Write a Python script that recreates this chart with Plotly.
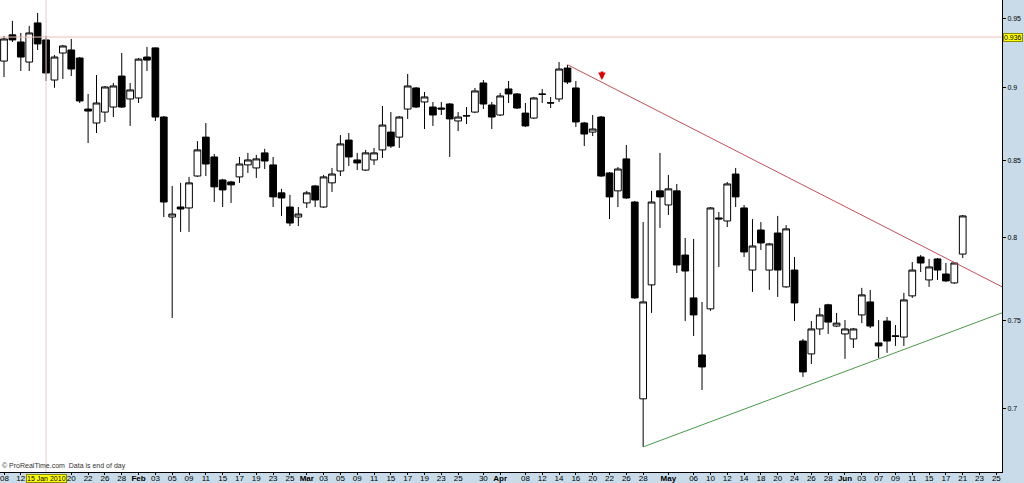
import math
import pandas as pd
import plotly.graph_objects as go

# ---- trading days (European calendar: Good Friday / Easter Monday closed) ----
all_days = [d for d in pd.bdate_range("2010-01-08", "2010-06-25")
            if d.strftime("%m-%d") not in ("04-02", "04-05")]
day_index = {d.strftime("%Y-%m-%d"): i for i, d in enumerate(all_days)}
n_bars = 115  # Jan 08 .. Jun 21

opens = [.9186, .9376, .9324, .9179, .9464, .9339, .9051, .9244, .9266, .9208,
         .8848, .8752, .8827, .8862, .9079, .8918, .8925, .9215, .9281, .8793,
         .8132, .8196, .8190, .8397, .8656, .8523, .8371, .8358, .8391, .8470,
         .8450, .8550, .8470, .8287, .8196, .8132, .8222, .8332, .8196, .8352,
         .8430, .8636, .8503, .8436, .8503, .8570, .8690, .8656, .8848, .8995,
         .8897, .8862, .8855, .8883, .8766, .8800, .8827, .9030, .8876, .8807,
         .8988, .8953, .8820, .8786, .8953, .8892, .8918, .9136, .8995, .8752,
         .8690, .8793, .8417, .8300, .8510, .8228, .7055, .7712, .8300, .8209,
         .8300, .7894, .7634, .7301, .7569, .8126, .8107, .8410, .8190, .7802,
         .8050, .7802, .8031, .7700, .7802, .7381, .7307, .7451, .7593, .7468,
         .7422, .7393, .7533, .7610, .7370, .7497, .7411, .7404, .7646, .7882,
         .7742, .7870, .7778, .7724, .7900]
highs = [.9368, .9479, .9390, .9442, .9538, .9368, .9230, .9303, .9346, .9215,
         .8953, .9086, .9009, .9030, .9244, .9030, .9208, .9288, .9285, .8800,
         .8332, .8352, .8391, .8629, .8752, .8543, .8378, .8365, .8523, .8550,
         .8537, .8577, .8523, .8313, .8274, .8196, .8300, .8339, .8404, .8450,
         .8670, .8684, .8550, .8570, .8583, .8869, .8827, .8800, .9094, .9002,
         .8967, .8897, .8897, .8890, .8827, .8862, .8995, .9051, .8897, .8960,
         .9044, .8960, .8890, .8932, .8988, .8932, .9179, .9158, .9044, .8759,
         .8807, .8800, .8423, .8456, .8603, .8235, .8100, .8300, .8550, .8404,
         .8345, .8000, .7994, .7610, .8196, .8164, .8358, .8450, .8209, .8119,
         .8100, .7969, .8139, .8081, .7882, .7393, .7497, .7575, .7599, .7545,
         .7503, .7457, .7694, .7682, .7503, .7521, .7474, .7664, .7851, .7894,
         .7870, .7876, .7845, .7851, .8145]
lows = [.9072, .9324, .9115, .9115, .9266, .9044, .8996, .9058, .9079, .8890,
        .8616, .8684, .8759, .8793, .8855, .8732, .8890, .9115, .8766, .8132,
        .7515, .8038, .8038, .8391, .8397, .8228, .8196, .8222, .8352, .8417,
        .8384, .8443, .8196, .8139, .8075, .8075, .8190, .8196, .8190, .8293,
        .8397, .8463, .8436, .8430, .8470, .8516, .8583, .8583, .8780, .8855,
        .8711, .8732, .8807, .8523, .8697, .8745, .8820, .8848, .8711, .8800,
        .8890, .8848, .8725, .8780, .8890, .8855, .8897, .9023, .8725, .8596,
        .8663, .8391, .8119, .8196, .8248, .7628, .6795, .7545, .8063, .8145,
        .7784, .7497, .7410, .7104, .7557, .7821, .8069, .8196, .7882, .7670,
        .7925, .7682, .7640, .7694, .7497, .7177, .7250, .7416, .7422, .7462,
        .7279, .7341, .7485, .7456, .7284, .7313, .7353, .7353, .7634, .7790,
        .7700, .7742, .7730, .7718, .7876]
closes = [.9346, .9339, .9215, .9390, .9310, .9101, .9215, .9295, .9129, .8904,
          .8834, .8890, .9002, .9009, .8862, .8981, .9200, .9193, .8793, .8228,
          .8151, .8183, .8352, .8570, .8476, .8326, .8306, .8339, .8476, .8503,
          .8510, .8496, .8261, .8254, .8094, .8151, .8287, .8241, .8391, .8410,
          .8610, .8523, .8483, .8550, .8550, .8738, .8596, .8793, .9009, .8862,
          .8932, .8807, .8848, .8780, .8793, .8802, .8974, .8883, .8793, .8939,
          .8953, .8855, .8732, .8925, .8950, .8890, .9129, .9037, .8759, .8677,
          .8711, .8397, .8261, .8443, .8254, .7634, .7610, .8228, .8261, .8313,
          .7833, .7796, .7533, .7233, .8190, .8120, .8345, .8261, .7913, .7950,
          .7969, .7963, .7802, .8057, .7604, .7205, .7451, .7533, .7491, .7485,
          .7451, .7451, .7652, .7468, .7353, .7381, .7408, .7622, .7802, .7845,
          .7821, .7802, .7736, .7845, .8139]

tick_dates = ["2010-01-08", "2010-01-12", "2010-01-20", "2010-01-22", "2010-01-26", "2010-01-28",
              "2010-02-01", "2010-02-03", "2010-02-05", "2010-02-09", "2010-02-11", "2010-02-15",
              "2010-02-17", "2010-02-19", "2010-02-23", "2010-02-25", "2010-03-01", "2010-03-03",
              "2010-03-05", "2010-03-09", "2010-03-11", "2010-03-15", "2010-03-17", "2010-03-19",
              "2010-03-23", "2010-03-25", "2010-03-30", "2010-04-01", "2010-04-08", "2010-04-12",
              "2010-04-14", "2010-04-16", "2010-04-20", "2010-04-22", "2010-04-26", "2010-04-28",
              "2010-05-03", "2010-05-06", "2010-05-10", "2010-05-12", "2010-05-14", "2010-05-18",
              "2010-05-20", "2010-05-24", "2010-05-26", "2010-05-28", "2010-06-01", "2010-06-03",
              "2010-06-07", "2010-06-09", "2010-06-11", "2010-06-15", "2010-06-17", "2010-06-21",
              "2010-06-23", "2010-06-25"]
tick_text = ["08", "12", "20", "22", "26", "28",
             "<b>Feb</b>", "03", "05", "09", "11", "15",
             "17", "19", "23", "25", "<b>Mar</b>", "03",
             "05", "09", "11", "15", "17", "19",
             "23", "25", "30", "<b>Apr</b>", "08", "12",
             "14", "16", "20", "22", "26", "28",
             "<b>May</b>", "06", "10", "12", "14", "18",
             "20", "24", "26", "28", "<b>Jun</b>", "03",
             "07", "09", "11", "15", "17", "21",
             "23", "25"]

y_ticks = [0.7, 0.75, 0.8, 0.85, 0.9, 0.95]

# trend lines (date, price)
resist_dates = ["2010-04-15", "2010-06-25"]
resist_prices = [0.9160, 0.7718]
support_dates = ["2010-04-28", "2010-06-25"]
support_prices = [0.6795, 0.7533]

cursor_date = "2010-01-15"
cursor_price = 0.936
signal_date = "2010-04-21"
signal_price = 0.9051

x_bars = list(range(n_bars))
x_left, x_right = -0.476, 118.67


def extend(dates, prices, x_to):
    x0, x1 = day_index[dates[0]], day_index[dates[1]]
    l0, l1 = math.log(prices[0]), math.log(prices[1])
    slope = (l1 - l0) / (x1 - x0)
    return [x0, x_to], [prices[0], math.exp(l0 + slope * (x_to - x0))]


fig = go.Figure()

# crosshair
fig.add_trace(go.Scatter(x=[day_index[cursor_date]] * 2, y=[0.60, 1.0], mode="lines",
                         line=dict(color="#e6cccc", width=1), hoverinfo="skip"))
fig.add_trace(go.Scatter(x=[x_left - 1, x_right + 1], y=[cursor_price] * 2, mode="lines",
                         line=dict(color="#f0bcbc", width=1), hoverinfo="skip"))

fig.add_trace(go.Candlestick(
    x=x_bars, open=opens, high=highs, low=lows, close=closes,
    increasing=dict(line=dict(color="#000000", width=1), fillcolor="#ffffff"),
    decreasing=dict(line=dict(color="#000000", width=1), fillcolor="#000000"),
    whiskerwidth=0,
))

rx, ry = extend(resist_dates, resist_prices, 121)
sx, sy = extend(support_dates, support_prices, 121)
fig.add_trace(go.Scatter(x=rx, y=ry, mode="lines", line=dict(color="#c0505a", width=1)))
fig.add_trace(go.Scatter(x=sx, y=sy, mode="lines", line=dict(color="#4a9a4a", width=1)))

font_family = "Liberation Sans, Arial, sans-serif"

# the first tick label sits at the very left edge, where plotly would hide it
tick_positions = [day_index[d] for d in tick_dates]
shown_text = [""] + tick_text[1:]

fig.update_layout(
    width=1024, height=483,
    margin=dict(l=0, r=22, t=0, b=11),
    paper_bgcolor="#c9dbe8",
    plot_bgcolor="#ffffff",
    showlegend=False,
    boxgap=0.2, boxgroupgap=0,
    font=dict(family=font_family, size=8, color="#000000"),
    xaxis=dict(
        range=[x_left, x_right],
        tickvals=tick_positions,
        ticktext=shown_text,
        ticks="outside", ticklen=2, tickcolor="#000000",
        ticklabelstandoff=-4,
        showgrid=False, zeroline=False,
        showline=True, linecolor="#000000", linewidth=1,
        rangeslider=dict(visible=False),
        automargin=False,
        tickfont=dict(size=8),
    ),
    yaxis=dict(
        type="log", side="right",
        range=[math.log10(0.6663), math.log10(0.9635)],
        tickvals=y_ticks, ticktext=[str(v) for v in y_ticks],
        ticks="outside", ticklen=3, tickcolor="#000000",
        showgrid=False, zeroline=False,
        showline=True, linecolor="#000000", linewidth=1,
        automargin=False,
        tickfont=dict(size=7),
    ),
    annotations=[
        dict(x=tick_positions[0], xref="x", y=-0.013, yref="paper",
             text=tick_text[0], showarrow=False, yanchor="middle",
             font=dict(size=8, color="#000000")),
        dict(x=day_index[cursor_date], xref="x", y=-0.013, yref="paper",
             text="15 Jan 2010", showarrow=False, bgcolor="#ffff00",
             bordercolor="#8a8a00", borderwidth=1, borderpad=0,
             font=dict(size=7, color="#000000"), yanchor="middle"),
        dict(x=1, xref="paper", xanchor="left", xshift=1,
             y=math.log10(cursor_price), yref="y",
             text="0.936", showarrow=False, bgcolor="#ffff00",
             bordercolor="#8a8a00", borderwidth=1, borderpad=0,
             font=dict(size=7, color="#000000")),
        dict(x=0, xref="paper", y=0, yref="paper", xanchor="left", yanchor="bottom",
             text="© ProRealTime.com  Data is end of day", showarrow=False,
             font=dict(size=7, color="#333333")),
        dict(x=day_index[signal_date] + 0.1, xref="x", y=math.log10(signal_price), yref="y",
             text="", showarrow=True, ax=0, ay=-10, arrowhead=2, arrowsize=0.6,
             arrowwidth=2.5, arrowcolor="#e00000"),
    ],
)

fig.write_html("out.html", config={"displayModeBar": False})

# remove the browser's default page margin so the figure fills the window
with open("out.html", "r", encoding="utf-8") as f:
    html = f.read()
html = html.replace("<head>", "<head><style>html,body{margin:0;padding:0;overflow:hidden;}</style>", 1)
with open("out.html", "w", encoding="utf-8") as f:
    f.write(html)
